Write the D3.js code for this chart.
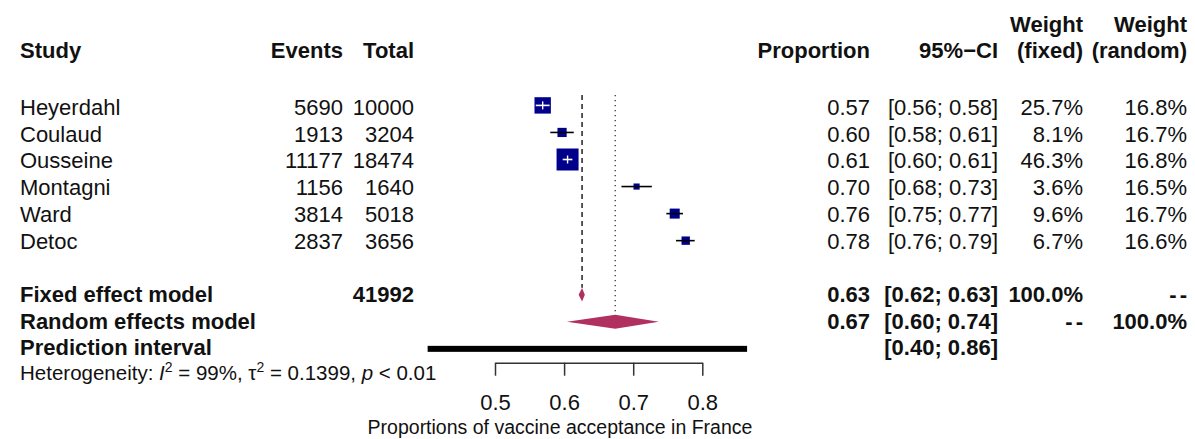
<!DOCTYPE html>
<html>
<head>
<meta charset="utf-8">
<script src="https://cdn.jsdelivr.net/npm/d3@7"></script>
<style>
  html, body { margin: 0; padding: 0; background: #fff; }
  svg { display: block; }
  text { font-family: "Liberation Sans", Arial, Helvetica, sans-serif; fill: #111; }
</style>
</head>
<body>
<svg id="chart" width="1195" height="439"></svg>
<script>
// Study-level data
const studies = ["Heyerdahl", "Coulaud", "Ousseine", "Montagni", "Ward", "Detoc"];
const events = [5690, 1913, 11177, 1156, 3814, 2837];
const totals = [10000, 3204, 18474, 1640, 5018, 3656];
const ciLower = [0.559, 0.580, 0.598, 0.683, 0.748, 0.762];
const ciUpper = [0.579, 0.614, 0.612, 0.727, 0.772, 0.789];
const weightFixed = [25.7, 8.1, 46.3, 3.6, 9.6, 6.7];
const weightRandom = [16.8, 16.7, 16.8, 16.5, 16.7, 16.6];

// Pooled estimates: [lower, estimate, upper]
const fixedEffect = [0.621, 0.626, 0.630];
const randomEffects = [0.604, 0.674, 0.737];
const predictionInterval = [0.4025, 0.8648];

// Heterogeneity statistics
const hetI2 = "99%";
const hetTau2 = "0.1399";
const hetP = "< 0.01";

// Axis
const axisTicks = [0.5, 0.6, 0.7, 0.8];
const axisTitle = "Proportions of vaccine acceptance in France";

const proportions = events.map((e, i) => e / totals[i]);
const totalN = d3.sum(totals);

const svg = d3.select("#chart");
const FS = 22;
const boxCol = "#00008b";
const diamondCol = "#b03060";

const x = d3.scaleLinear().domain([0.5, 0.8]).range([495, 702.3]);
const boxSize = d3.scaleSqrt().domain([0, 46.3]).range([0, 22]);

// row geometry: i = 0..5 studies, 7 fixed, 8 random, 9 prediction, 10 heterogeneity
const markY = i => 105.4 + 27.05 * i;
const textY = i => 115 + 26.7 * i;

const f2 = v => v.toFixed(2);
const ci = (lo, hi) => `[${f2(lo)}; ${f2(hi)}]`;
const pct = v => v.toFixed(1) + "%";

// column anchors
const colStudy = 20, colEvents = 343, colTotal = 414;
const colProp = 870, colCI = 998, colWF = 1083, colWR = 1187;

function txt(xp, yp, s, anchor, bold) {
  return svg.append("text")
    .attr("x", xp).attr("y", yp)
    .attr("text-anchor", anchor || "start")
    .attr("font-size", FS)
    .attr("font-weight", bold ? "bold" : "normal")
    .text(s);
}
// "--" placeholder for a weight that does not apply (spaced out slightly)
function dashes(xp, yp) {
  return txt(xp + 3, yp, "--", "end", true).attr("letter-spacing", 3);
}

// Column headers
const h1 = 31.5, h2 = 58;
txt(colStudy, h2, "Study", "start", true);
txt(colEvents, h2, "Events", "end", true);
txt(colTotal, h2, "Total", "end", true);
txt(colProp, h2, "Proportion", "end", true);
txt(colCI, h2, "95%\u2212CI", "end", true);
txt(colWF, h1, "Weight", "end", true);
txt(colWF, h2, "(fixed)", "end", true);
txt(colWR, h1, "Weight", "end", true);
txt(colWR, h2, "(random)", "end", true);

// Study rows
studies.forEach((s, i) => {
  const ty = textY(i);
  txt(colStudy, ty, s);
  txt(colEvents, ty, String(events[i]), "end");
  txt(colTotal, ty, String(totals[i]), "end");
  txt(colProp, ty, f2(proportions[i]), "end");
  txt(colCI, ty, ci(ciLower[i], ciUpper[i]), "end");
  txt(colWF, ty, pct(weightFixed[i]), "end");
  txt(colWR, ty, pct(weightRandom[i]), "end");
});

// Pooled rows
txt(colStudy, textY(7), "Fixed effect model", "start", true);
txt(colTotal, textY(7), String(totalN), "end", true);
txt(colProp, textY(7), f2(fixedEffect[1]), "end", true);
txt(colCI, textY(7), ci(fixedEffect[0], fixedEffect[2]), "end", true);
txt(colWF, textY(7), "100.0%", "end", true);
dashes(colWR, textY(7));

txt(colStudy, textY(8), "Random effects model", "start", true);
txt(colProp, textY(8), f2(randomEffects[1]), "end", true);
txt(colCI, textY(8), ci(randomEffects[0], randomEffects[2]), "end", true);
dashes(colWF, textY(8));
txt(colWR, textY(8), "100.0%", "end", true);

txt(colStudy, textY(9), "Prediction interval", "start", true);
txt(colCI, textY(9), ci(predictionInterval[0], predictionInterval[1]), "end", true);

// Heterogeneity line
const het = svg.append("text")
  .attr("x", colStudy).attr("y", 380)
  .attr("font-size", 20.5);
het.append("tspan").text("Heterogeneity: ");
het.append("tspan").attr("font-style", "italic").text("I");
het.append("tspan").attr("font-size", 14).attr("dy", -8).text("2");
het.append("tspan").attr("dy", 8).text(" = " + hetI2 + ", \u03c4");
het.append("tspan").attr("font-size", 14).attr("dy", -8).text("2");
het.append("tspan").attr("dy", 8).text(" = " + hetTau2 + ", ");
het.append("tspan").attr("font-style", "italic").text("p");
het.append("tspan").text(" " + hetP);

// Reference lines: fixed (dashed) and random (dotted)
svg.append("line")
  .attr("x1", x(fixedEffect[1])).attr("x2", x(fixedEffect[1]))
  .attr("y1", 95).attr("y2", markY(7) - 7)
  .attr("stroke", "#222").attr("stroke-width", 1.5)
  .attr("stroke-dasharray", "5,4");
svg.append("line")
  .attr("x1", x(randomEffects[1])).attr("x2", x(randomEffects[1]))
  .attr("y1", 95).attr("y2", markY(8) - 7)
  .attr("stroke", "#444").attr("stroke-width", 1.4)
  .attr("stroke-dasharray", "1.3,3.7");

// Study squares with confidence intervals
studies.forEach((s, i) => {
  const cy = markY(i);
  const cx = x(proportions[i]);
  const sz = boxSize(weightFixed[i]);
  const lo = x(ciLower[i]), hi = x(ciUpper[i]);
  svg.append("rect")
    .attr("x", cx - sz / 2).attr("y", cy - sz / 2)
    .attr("width", sz).attr("height", sz)
    .attr("fill", boxCol);
  const inside = lo >= cx - sz / 2 && hi <= cx + sz / 2;
  svg.append("line")
    .attr("x1", lo).attr("x2", hi).attr("y1", cy).attr("y2", cy)
    .attr("stroke", inside ? "#fff" : "#000").attr("stroke-width", 1.6);
  if (inside) {
    svg.append("line")
      .attr("x1", cx).attr("x2", cx).attr("y1", cy - 4).attr("y2", cy + 4)
      .attr("stroke", "#fff").attr("stroke-width", 1.4);
  }
});

// Pooled diamonds
function diamond(vals, cy, hh) {
  const [lo, est, hi] = vals.map(x);
  svg.append("path")
    .attr("d", `M${lo},${cy}L${est},${cy - hh}L${hi},${cy}L${est},${cy + hh}Z`)
    .attr("fill", diamondCol);
}
diamond(fixedEffect, markY(7), 6.8);
diamond(randomEffects, markY(8), 7);

// Prediction interval bar
svg.append("rect")
  .attr("x", x(predictionInterval[0]))
  .attr("width", x(predictionInterval[1]) - x(predictionInterval[0]))
  .attr("y", markY(9) - 3).attr("height", 6)
  .attr("fill", "#000");

// Axis
const axisG = svg.append("g").attr("transform", "translate(0,362.7)");
const axis = d3.axisBottom(x).tickValues(axisTicks).tickSize(13).tickSizeOuter(0)
  .tickFormat(d3.format(".1f"));
axisG.call(axis);
axisG.select(".domain").attr("stroke", "#333").attr("stroke-width", 1.5);
axisG.selectAll(".tick line").attr("stroke", "#333").attr("stroke-width", 1.5);
axisG.selectAll(".tick text")
  .attr("font-size", FS)
  .attr("font-family", "Liberation Sans, Arial, sans-serif")
  .attr("fill", "#111")
  .attr("y", 47.5).attr("dy", 0);

svg.append("text")
  .attr("x", 560).attr("y", 434)
  .attr("text-anchor", "middle")
  .attr("font-size", 19.5)
  .text(axisTitle);
</script>
</body>
</html>
